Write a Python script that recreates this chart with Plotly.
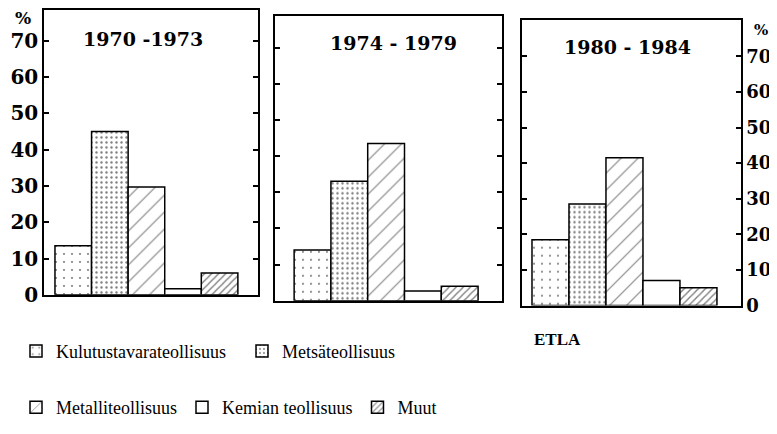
import plotly.graph_objects as go

W, H = 777, 434
OFF = 8  # the page body adds an 8px margin around the plot

# Data (share of industrial investment, %)
kaudet = ["1970 -1973", "1974 - 1979", "1980 - 1984"]
toimialat = ["Kulutustavarateollisuus", "Metsäteollisuus", "Metalliteollisuus",
             "Kemian teollisuus", "Muut"]
kulutustavara = [13.5, 14.0, 18.5]
metsa = [45.0, 33.0, 28.5]
metalli = [29.7, 43.5, 41.5]
kemia = [1.7, 2.7, 7.0]
muut = [6.0, 4.0, 5.0]
y_ticks = [0, 10, 20, 30, 40, 50, 60, 70]

arvot = [kulutustavara, metsa, metalli, kemia, muut]

# Hatch / dot pattern per industry
kuviot = [
    dict(shape=".", size=8, solidity=0.06, fgcolor="black", bgcolor="white"),
    dict(shape=".", size=5, solidity=0.18, fgcolor="black", bgcolor="white"),
    dict(shape="/", size=12, solidity=0.09, fgcolor="black", bgcolor="white"),
    dict(shape="", fgcolor="black", bgcolor="white"),
    dict(shape="/", size=5, solidity=0.28, fgcolor="black", bgcolor="white"),
]
legendit = ["legend", "legend", "legend2", "legend2", "legend2"]


def fx(px):
    return (px - OFF) / W


def fy(py):
    return 1 - (py - OFF) / H


# panel boxes in screen pixels: (x0, x1, ytop, ybottom), x range, y range
paneelit = [
    ((44, 258, 10, 303), [-0.8, 5.05], [0, 78.5]),
    ((275, 502, 16, 309), [-1.02, 5.15], [0, 78.8]),
    ((522, 741, 20, 314), [-0.77, 5.15], [0, 80.3]),
]

fig = go.Figure()

for p in range(3):
    ax = "" if p == 0 else str(p + 1)
    for i, nimi in enumerate(toimialat):
        fig.add_trace(go.Bar(
            x=[i], y=[arvot[i][p]], width=1,
            name=nimi, legendgroup=nimi, showlegend=(p == 0),
            legend=legendit[i],
            marker=dict(color="white", pattern=kuviot[i],
                        line=dict(color="black", width=1.5)),
            xaxis="x" + ax, yaxis="y" + ax,
            hoverinfo="skip",
        ))

serif_b = dict(family="DejaVu Serif", color="black", weight="bold")

layout = dict(
    width=W, height=H,
    margin=dict(l=0, r=0, t=0, b=0),
    paper_bgcolor="white", plot_bgcolor="white",
    barmode="overlay",
    font=dict(family="Liberation Serif", color="black"),
)

for p, ((x0, x1, yt, yb), xr, yr) in enumerate(paneelit):
    ax = "" if p == 0 else str(p + 1)
    layout["xaxis" + ax] = dict(
        domain=[fx(x0), fx(x1)], range=xr, anchor="y" + ax,
        showline=True, mirror=True, linecolor="black", linewidth=1.5,
        showticklabels=False, ticks="", showgrid=False, zeroline=False,
    )
    layout["yaxis" + ax] = dict(
        domain=[fy(yb), fy(yt)], range=yr, anchor="x" + ax,
        showline=True, mirror="ticks", linecolor="black", linewidth=1.5,
        ticks="inside", ticklen=5, tickwidth=1.5, tickcolor="black",
        tickvals=y_ticks, showticklabels=(p != 1),
        side="right" if p == 2 else "left",
        tickfont=dict(size=18 if p == 2 else 20, **serif_b),
        showgrid=False, zeroline=False,
    )

legend_font = dict(family="Liberation Serif", size=18, color="black")
layout["legend"] = dict(
    orientation="h", x=fx(16), y=fy(361), xanchor="left", yanchor="middle",
    font=legend_font, bgcolor="rgba(0,0,0,0)", traceorder="normal",
    entrywidth=181, entrywidthmode="pixels",
)
layout["legend2"] = dict(
    orientation="h", x=fx(16), y=fy(419), xanchor="left", yanchor="middle",
    font=legend_font, bgcolor="rgba(0,0,0,0)", traceorder="normal",
)

fig.update_layout(**layout)


def teksti(t, cx, cy, font):
    fig.add_annotation(text=t, x=fx(cx), y=fy(cy), xref="paper", yref="paper",
                       xanchor="center", yanchor="middle",
                       showarrow=False, font=font)


# panel titles
otsikko_pos = [(143, 40), (393, 44), (627, 48)]
for k, (cx, cy) in zip(kaudet, otsikko_pos):
    teksti(k, cx, cy, dict(size=19, **serif_b))

teksti("%", 23, 18, dict(size=17, **serif_b))
teksti("%", 761, 31, dict(size=15, **serif_b))
teksti("ETLA", 557, 349, dict(family="Liberation Serif", size=17,
                              color="black", weight="bold"))

fig.write_html("out.html")
